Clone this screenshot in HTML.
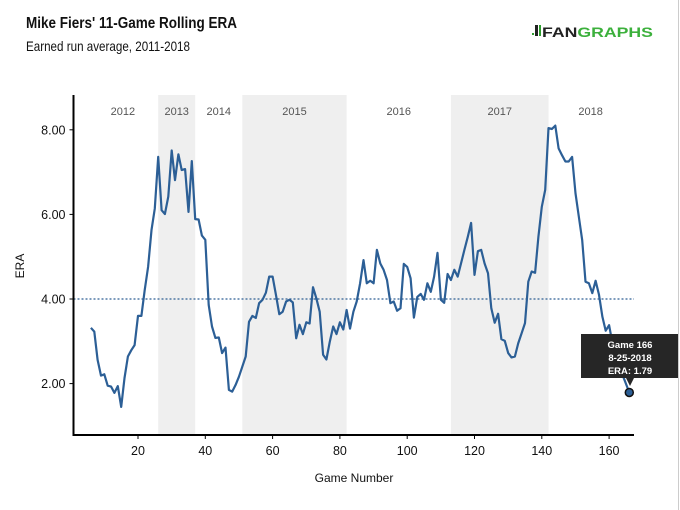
<!DOCTYPE html>
<html><head><meta charset="utf-8"><style>
body{margin:0;background:#fff;}
svg{display:block;font-family:"Liberation Sans",sans-serif;}
</style></head><body>
<svg id="chart" width="680" height="510">
<rect x="0" y="0" width="680" height="510" fill="#fff"/>
<line x1="678.5" y1="0" x2="678.5" y2="510" stroke="#ccc"/>
<text x="26" y="28" font-size="16" font-weight="bold" fill="#111" textLength="211" lengthAdjust="spacingAndGlyphs">Mike Fiers' 11-Game Rolling ERA</text>
<text x="26" y="51" font-size="14" fill="#111" textLength="164" lengthAdjust="spacingAndGlyphs">Earned run average, 2011-2018</text>
<g>
<rect x="532" y="33" width="2" height="2" fill="#2e9e2e"/>
<rect x="535" y="25" width="3" height="11" fill="#222"/>
<rect x="539" y="25" width="2" height="11" fill="#2e9e2e"/>
<text x="542" y="37" font-size="14" font-weight="bold" fill="#222" textLength="111" lengthAdjust="spacingAndGlyphs">FAN<tspan fill="#3cb03c">GRAPHS</tspan></text>
</g>
<g id="bands"></g>
<g id="yearlabels"></g>
<g id="axes"></g>
<g id="series"></g>
<g>
<rect x="581" y="334" width="97" height="44" fill="#262626"/>
<polygon points="626,378 634,378 630,386" fill="#262626"/>
<text x="630" y="348" font-size="9.5" font-weight="bold" fill="#fff" text-anchor="middle">Game 166</text>
<text x="630" y="361" font-size="9.5" font-weight="bold" fill="#fff" text-anchor="middle">8-25-2018</text>
<text x="630" y="374" font-size="9.5" font-weight="bold" fill="#fff" text-anchor="middle">ERA: 1.79</text>
</g>
<g id="dotg"></g>
</svg>
<script>
const games = [6,7,8,9,10,11,12,13,14,15,16,17,18,19,20,21,22,23,24,25,26,27,28,29,30,31,32,33,34,35,36,37,38,39,40,41,42,43,44,45,46,47,48,49,50,51,52,53,54,55,56,57,58,59,60,61,62,63,64,65,66,67,68,69,70,71,72,73,74,75,76,77,78,79,80,81,82,83,84,85,86,87,88,89,90,91,92,93,94,95,96,97,98,99,100,101,102,103,104,105,106,107,108,109,110,111,112,113,114,115,116,117,118,119,120,121,122,123,124,125,126,127,128,129,130,131,132,133,134,135,136,137,138,139,140,141,142,143,144,145,146,147,148,149,150,151,152,153,154,155,156,157,158,159,160,161,162,163,164,165,166];
const era = [3.32,3.23,2.56,2.19,2.22,1.95,1.93,1.78,1.94,1.45,2.13,2.64,2.79,2.91,3.60,3.60,4.21,4.76,5.63,6.14,7.36,6.10,6.01,6.42,7.51,6.81,7.42,7.05,7.07,6.06,7.26,5.89,5.88,5.50,5.40,3.86,3.35,3.08,3.09,2.72,2.85,1.85,1.81,1.97,2.16,2.40,2.64,3.46,3.60,3.55,3.90,3.98,4.15,4.53,4.53,4.09,3.64,3.70,3.94,3.98,3.92,3.07,3.39,3.17,3.45,3.42,4.28,4.02,3.70,2.68,2.57,2.99,3.35,3.17,3.45,3.28,3.74,3.30,3.70,3.94,4.37,4.92,4.37,4.43,4.37,5.16,4.84,4.69,4.45,3.90,3.94,3.72,3.78,4.83,4.76,4.49,3.56,4.05,4.12,3.98,4.37,4.17,4.53,5.09,3.98,3.91,4.59,4.45,4.69,4.53,4.84,5.16,5.47,5.80,4.57,5.13,5.16,4.84,4.61,3.78,3.44,3.65,3.05,3.01,2.72,2.62,2.64,2.95,3.19,3.43,4.41,4.65,4.62,5.47,6.18,6.58,8.04,8.02,8.10,7.56,7.40,7.25,7.25,7.36,6.50,5.95,5.39,4.41,4.37,4.14,4.43,4.10,3.58,3.25,3.38,2.95,2.64,2.40,2.20,2.00,1.79];
const xTicks = [20,40,60,80,100,120,140,160];
const yTicks = [2,4,6,8];
const yearNames = ["2012","2013","2014","2015","2016","2017","2018"];
const yearStart = [5,26,37,51,82,113,142];
const yearEnd = [26,37,51,82,113,142,167];
const shadedYears = ["2013","2015","2017"];
const refEra = 4;

const X = g => 138 + (g - 20) * 3.365;
const Y = e => 299 - (e - 4) * 42.3;
const NS = "http://www.w3.org/2000/svg";
function mk(tag, attrs, parent){const el=document.createElementNS(NS,tag);for(const k in attrs)el.setAttribute(k,attrs[k]);parent.appendChild(el);return el;}
const plotTop=95, plotBottom=435, plotLeft=73.5, plotRight=634;

const bands=document.getElementById('bands'), yl=document.getElementById('yearlabels');
yearNames.forEach((n,i)=>{
  const x0=Math.max(X(yearStart[i]),plotLeft), x1=Math.min(X(yearEnd[i]),plotRight);
  if(shadedYears.includes(n)){
    const r=mk('rect',{x:x0,y:plotTop,width:x1-x0,height:plotBottom-plotTop,fill:'#efefef'},bands);
    
    
  }
  const t=mk('text',{x:(x0+x1)/2,y:115,'font-size':11,fill:'#555','text-anchor':'middle'},yl);
  t.textContent=n;
  
  
});

const ax=document.getElementById('axes');
const ra=mk('line',{x1:plotLeft,x2:plotRight,y1:Y(refEra),y2:Y(refEra),stroke:'#2f5f94','stroke-width':1.2,'stroke-dasharray':'2,2'},ax);


const ya=mk('line',{x1:plotLeft,x2:plotLeft,y1:plotTop,y2:plotBottom+1,stroke:'#000','stroke-width':2},ax);


const xa=mk('line',{x1:plotLeft-1,x2:plotRight,y1:plotBottom,y2:plotBottom,stroke:'#000','stroke-width':2},ax);


yTicks.forEach(v=>{
  mk('line',{x1:plotLeft-4,x2:plotLeft,y1:Y(v),y2:Y(v),stroke:'#000'},ax);
  const t=mk('text',{x:plotLeft-8,y:Y(v)+4.5,'font-size':12.5,'text-anchor':'end',fill:'#111'},ax);
  t.textContent=v.toFixed(2);
  
  
});
xTicks.forEach(v=>{
  mk('line',{x1:X(v),x2:X(v),y1:plotBottom,y2:plotBottom+4,stroke:'#000'},ax);
  const t=mk('text',{x:X(v),y:plotBottom+20,'font-size':12.5,'text-anchor':'middle',fill:'#111'},ax);
  t.textContent=v;
  
  
});
const xt=mk('text',{x:354,y:482,'font-size':12,'text-anchor':'middle',fill:'#111'},ax);
xt.textContent='Game Number';


const yt=mk('text',{x:0,y:0,'font-size':12,'text-anchor':'middle',fill:'#111',transform:'translate(24,266) rotate(-90)'},ax);
yt.textContent='ERA';



const ser=document.getElementById('series');
const d=games.map((g,i)=>(i?'L':'M')+X(g).toFixed(1)+','+Y(era[i]).toFixed(1)).join(' ');
const p=mk('path',{d:d,fill:'none',stroke:'#2c5f96','stroke-width':2.2,'stroke-linejoin':'round'},ser);



const last=games.length-1;
const dot=mk('circle',{cx:X(games[last]),cy:Y(era[last]),r:4,fill:'#2c5f96',stroke:'#111','stroke-width':1.5},document.getElementById('dotg'));


</script>
</body></html>
